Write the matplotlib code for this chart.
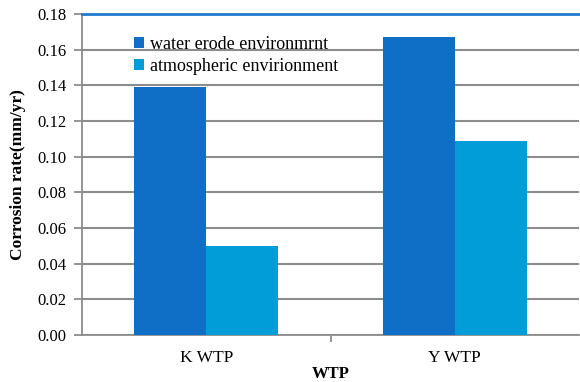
from matplotlib import pyplot as plt
import numpy as np

plants = ['K WTP', 'Y WTP']
water_erode = [0.139, 0.167]
atmospheric = [0.050, 0.109]
yticks = [0.00, 0.02, 0.04, 0.06, 0.08, 0.10, 0.12, 0.14, 0.16, 0.18]

plt.rcParams['font.family'] = ['Liberation Serif', 'DejaVu Serif']

fig = plt.figure(figsize=(5.8, 3.82), dpi=100)
ax = fig.add_axes([0.1414, 0.123, 0.857, 0.840])

x = np.arange(len(plants))
w = 0.29
ax.bar(x - w / 2, water_erode, w, color='#0F6FC6', label='water erode environmrnt', zorder=3)
ax.bar(x + w / 2, atmospheric, w, color='#009DD9', label='atmospheric envirionment', zorder=3)

ax.set_xlim(-0.5, 1.5)
ax.set_ylim(0, 0.18)
ax.set_yticks(yticks)
ax.set_yticklabels(['%.2f' % v for v in yticks], fontsize=12)
ax.set_xticks(x)
ax.set_xticklabels(plants, fontsize=12.5)
ax.tick_params(axis='x', length=0, pad=11)
ax.tick_params(axis='y', length=6, width=1.3, color='#8c8c8c', pad=5)
ax.set_xticks([0.5], minor=True)
ax.tick_params(axis='x', which='minor', length=5, width=1.3, color='#8c8c8c')

ax.grid(axis='y', color='#8c8c8c', linewidth=1.5, zorder=0)
for s in ['top', 'right']:
    ax.spines[s].set_visible(False)
ax.spines['left'].set_color('#8c8c8c')
ax.spines['left'].set_linewidth(1.3)
ax.spines['bottom'].set_color('#8c8c8c')
ax.spines['bottom'].set_linewidth(1.3)
ax.axhline(0.18, color='#1F7AD0', linewidth=2, zorder=4, clip_on=False)

ax.set_ylabel('Corrosion rate(mm/yr)', fontsize=12.5, fontweight='bold', labelpad=8)
ax.set_xlabel('WTP', fontsize=12, fontweight='bold', labelpad=0)

ax.legend(loc='upper left', bbox_to_anchor=(0.09, 0.955), frameon=False,
          fontsize=13, handlelength=0.55, handleheight=0.55, handletextpad=0.35,
          labelspacing=0.3, borderaxespad=0)

fig.savefig('out.png', dpi=100)
